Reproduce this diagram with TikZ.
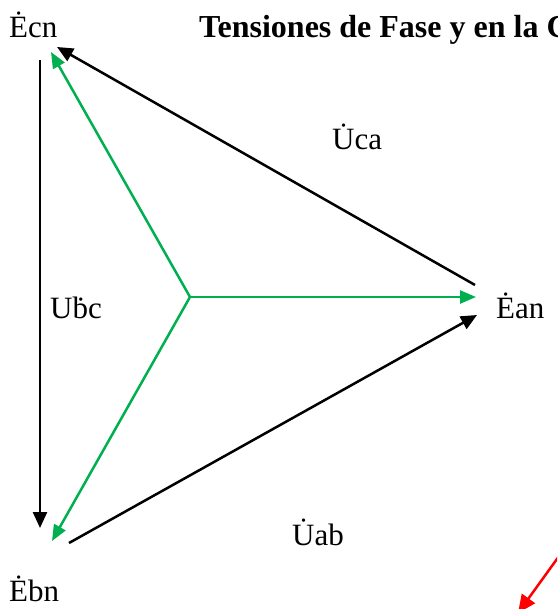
\documentclass[tikz,border=0pt]{standalone}
\usepackage{fontspec}
\setmainfont{Liberation Serif}
\usetikzlibrary{arrows.meta}
\definecolor{vgreen}{RGB}{0,176,80}
\begin{document}
\begin{tikzpicture}[x=1pt,y=-1pt,
  lbl/.style={font=\fontsize{31}{36}\selectfont, inner sep=0pt},
  gvec/.style={draw=vgreen, line width=2.5pt, -{Triangle[length=16pt,width=13pt]}},
  bvec/.style={draw=black, line width=2.5pt, -{Triangle[length=16pt,width=14pt]}},
  rvec/.style={draw=red, line width=2.5pt, -{Triangle[length=18pt,width=16pt]}}]
\useasboundingbox (0,0) rectangle (557,609);
\clip (0,0) rectangle (557,609);
% coordinates
\coordinate (O) at (190,297);
\coordinate (ga) at (476,297);
\coordinate (gc) at (51,52);
\coordinate (gb) at (52,541);
\coordinate (ucaS) at (475,285);
\coordinate (ucaE) at (57,47);
\coordinate (ubcS) at (40,60);
\coordinate (ubcE) at (40,528);
\coordinate (uabS) at (69,543);
\coordinate (uabE) at (477,315);
\coordinate (rS) at (562,552);
\coordinate (rE) at (518,613);
% labels
\node[lbl, anchor=base west] (ecn) at (9,38) {Ėcn};
\node[lbl, anchor=base west, font=\fontsize{32}{36}\selectfont\bfseries] (title) at (199,38) {Tensiones de Fase y en la C};
\node[lbl, anchor=base west] (ean) at (496,318) {Ėan};
\node[lbl, anchor=base west] (ebn) at (9,601) {Ėbn};
\node[lbl, anchor=base west] (ubc) at (50,318) {Uḃc};
\node[lbl, anchor=base west] (uca) at (332,150) {\.{U}ca};
\node[lbl, anchor=base west] (uab) at (292,545) {\.{U}ab};
% vectors
\draw[gvec] (O) -- (ga);
\draw[gvec] (O) -- (gc);
\draw[gvec] (O) -- (gb);
\draw[bvec] (ucaS) -- (ucaE);
\draw[bvec] (ubcS) -- (ubcE);
\draw[bvec] (uabS) -- (uabE);
\draw[rvec] (rS) -- (rE);
\end{tikzpicture}
\end{document}
